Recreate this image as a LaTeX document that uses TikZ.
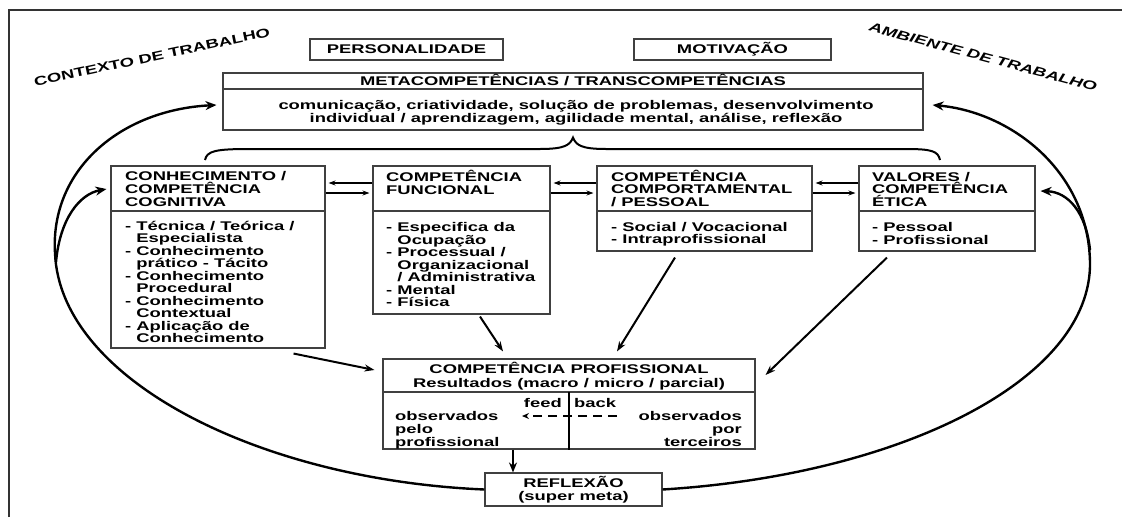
\documentclass[tikz,border=0pt]{standalone}
\usepackage{fontspec}
\setmainfont{Liberation Sans}[FakeStretch=1.46]
\usetikzlibrary{arrows.meta,calc}
\newcommand\dgfont{\bfseries\fontsize{12.6}{12.5}\selectfont}
\tikzset{
  box/.style={draw=black!75, line width=1.1pt, inner sep=0pt},
  divline/.style={draw=black!75, line width=1.1pt},
  txt/.style={inner sep=0pt, align=left, font=\dgfont},
  ctxt/.style={inner sep=0pt, align=center, font=\dgfont},
  bigloop/.style={line width=2.4pt, -{Stealth[length=11pt,width=9pt]}},
  harrow/.style={line width=1.5pt, -{Stealth[length=7pt,width=5pt]}, shorten >=3pt},
  parrow/.style={line width=2pt, -{Stealth[length=10pt,width=7pt]}},
  dasharrow/.style={line width=2pt, dash pattern=on 9pt off 6pt, -{Stealth[length=7pt,width=6pt]}},
}
\begin{document}
\begin{tikzpicture}[x=1pt,y=-1pt]
\useasboundingbox (0,0) rectangle (1122,517);
% frame
\draw[line width=2pt, black!80] (9,517) -- (9,10) -- (1122,10);

% angled labels
\node[txt, rotate=12] (ctx) at (152,57) {CONTEXTO DE TRABALHO};
\node[txt, rotate=-15, font=\dgfont\itshape] (amb) at (983,57) {AMBIENTE DE TRABALHO};

% top boxes
\node[box, minimum width=193pt, minimum height=21pt, font=\dgfont] (pers) at (406.5,49.5) {PERSONALIDADE};
\node[box, minimum width=197pt, minimum height=21pt, font=\dgfont] (motiv) at (732.5,49.5) {MOTIVAÇÃO};

% meta box
\node[box, minimum width=700pt, minimum height=57pt] (meta) at (573,101.5) {};
\draw[divline] (meta.west |- 0,89) -- (meta.east |- 0,89);
\node[ctxt, anchor=base] (metat) at (573,85.5) {METACOMPETÊNCIAS / TRANSCOMPETÊNCIAS};
\node[ctxt, anchor=base, font=\bfseries\fontsize{12.6}{13}\selectfont] (metab) at (576,122.5) {comunicação, criatividade, solução de problemas, desenvolvimento\\individual / aprendizagem, agilidade mental, análise, reflexão};

% brace
\draw[line width=2pt] (205,160) .. controls (207,151) and (215,149) .. (250,149) -- (540,149)
  .. controls (565,149) and (570,145) .. ($(meta.south)+(0,7)$)
  .. controls (576,145) and (581,149) .. (606,149) -- (905,149)
  .. controls (932,149) and (938,151) .. (940,160);

% level boxes
\node[box, minimum width=214pt, minimum height=182pt] (conh) at (218,257) {};
\node[box, minimum width=177pt, minimum height=148pt] (func) at (461.5,240) {};
\node[box, minimum width=215pt, minimum height=85pt] (comp) at (704.5,208.5) {};
\node[box, minimum width=176pt, minimum height=85pt] (valo) at (947,208.5) {};
\coordinate (dv) at (0,211);
\foreach \b in {conh,func,comp,valo}{\draw[divline] (\b.west |- dv) -- (\b.east |- dv);}

% multi-line texts: anchored at the baseline of their last line
\node[txt, anchor=base west, font=\bfseries\fontsize{12.6}{13}\selectfont] (conht) at (125,206.5) {CONHECIMENTO /\\COMPETÊNCIA\\COGNITIVA};
\node[txt, anchor=base west] (conhb) at (125,342.5) {- Técnica / Teórica /\\\hphantom{- }Especialista\\- Conhecimento\\\hphantom{- }prático - Tácito\\- Conhecimento\\\hphantom{- }Procedural\\- Conhecimento\\\hphantom{- }Contextual\\- Aplicação de\\\hphantom{- }Conhecimento};

\node[txt, anchor=base west, font=\bfseries\fontsize{12.6}{13}\selectfont] (funct) at (386,194.5) {COMPETÊNCIA\\FUNCIONAL};
\node[txt, anchor=base west] (funcb) at (386,306.5) {- Especifica da\\\hphantom{- }Ocupação\\- Processual /\\\hphantom{- }Organizacional\\\hphantom{- }/ Administrativa\\- Mental\\- Física};

\node[txt, anchor=base west, font=\bfseries\fontsize{12.6}{12.6}\selectfont] (compt) at (611,206.5) {COMPETÊNCIA\\COMPORTAMENTAL\\/ PESSOAL};
\node[txt, anchor=base west] (compb) at (611,243.5) {- Social / Vocacional\\- Intraprofissional};

\node[txt, anchor=base west, font=\bfseries\fontsize{12.6}{12.6}\selectfont] (valot) at (872,206.5) {VALORES /\\COMPETÊNCIA\\ÉTICA};
\node[txt, anchor=base west, font=\bfseries\fontsize{12.6}{13}\selectfont] (valob) at (872,244.5) {- Pessoal\\- Profissional};

% horizontal arrows
\coordinate (hA) at (0,183);
\coordinate (hB) at (0,193);
\draw[harrow] (func.west |- hA) -- (conh.east |- hA);
\draw[harrow] (conh.east |- hB) -- (func.west |- hB);
\draw[harrow] (comp.west |- hA) -- (func.east |- hA);
\draw[harrow] (func.east |- hB) -- (comp.west |- hB);
\draw[harrow] (valo.west |- hA) -- (comp.east |- hA);
\draw[harrow] (comp.east |- hB) -- (valo.west |- hB);

% professional box
\node[box, minimum width=372pt, minimum height=90pt] (prof) at (569,404) {};
\draw[divline] (prof.west |- 0,392) -- (prof.east |- 0,392);
\draw[line width=1.6pt] (569,392) -- (prof.south);
\node[ctxt, anchor=base] (proft) at (569,373.5) {COMPETÊNCIA PROFISSIONAL};
\node[ctxt, anchor=base] (profr) at (569,387.5) {Resultados (macro / micro / parcial)};
\node[txt, anchor=base east] (feed) at (562,407.5) {feed};
\node[txt, anchor=base west] (back) at (574,407.5) {back};
\node[txt, anchor=base west, font=\bfseries\fontsize{12.6}{13}\selectfont] (obsl) at (395,446.5) {observados\\pelo\\profissional};
\node[txt, anchor=base east, align=right, font=\bfseries\fontsize{12.6}{13}\selectfont] (obsr) at (742,446.5) {observados\\por\\terceiros};
\coordinate (fbR) at (617,416);
\coordinate (fbL) at (522,416);
\draw[dasharrow] (fbR) -- (fbL);

% reflexao
\node[box, minimum width=177pt, minimum height=33pt, align=center, font=\bfseries\fontsize{12.6}{13}\selectfont] (refl) at (573.5,489.5) {REFLEXÃO\\(super meta)};

% arrows into professional
\draw[parrow] ($(conh.south east)+(-32,5)$) -- ($(prof.west)+(-8,-34)$);
\draw[parrow] ($(func.south)+(18.5,2)$) -- ($(prof.north)+(-66,-7)$);
\draw[parrow] ($(comp.south)+(-29.5,6)$) -- ($(prof.north)+(48,-7)$);
\draw[parrow] ($(valo.south)+(-60,6)$) -- ($(prof.east)+(10,-29)$);
\draw[line width=2.4pt, -{Stealth[length=10pt,width=8pt]}] ($(prof.south)+(-56,0)$) -- ($(refl.north)+(-60.5,0)$);

% big loops
\draw[bigloop] (refl.west) .. controls (260,480) and (60,380) .. (55,253)
  .. controls (50,170) and (120,110) .. ($(meta.west)+(-6,3.5)$);
\coordinate (lbr) at (56,262);
\draw[bigloop] (lbr) .. controls (60,218) and (80,194) .. ($(conh.west)+(-4,-68)$);

\draw[bigloop] (refl.east) .. controls (900,475) and (1092,380) .. (1090,262)
  .. controls (1088,170) and (1010,112) .. ($(meta.east)+(9,3.5)$);
\coordinate (rbr) at (1090,250);
\draw[bigloop] (rbr) .. controls (1086,212) and (1068,192) .. ($(valo.east)+(5,-17.5)$);
\end{tikzpicture}
\end{document}
